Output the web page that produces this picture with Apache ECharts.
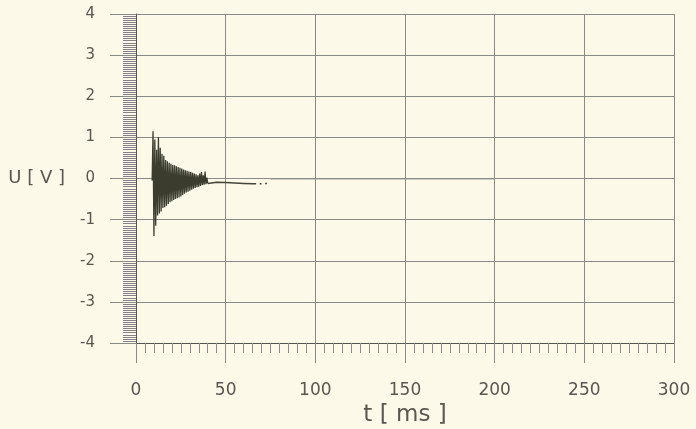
<!DOCTYPE html>
<html>
<head>
<meta charset="utf-8">
<script src="https://cdn.jsdelivr.net/npm/echarts@6/dist/echarts.min.js"></script>
<style>
  html, body { margin: 0; padding: 0; background: #fcf9e9; }
  #chart { width: 696px; height: 429px; }
</style>
</head>
<body>
<div id="chart"></div>
<script>
// Decaying voltage transient, sampled every 0.5 ms (t in ms, U in V)
const tSignal = [
  9.0, 9.5, 10.0, 10.5, 11.0, 11.5, 12.0, 12.5, 13.0, 13.5,
  14.0, 14.5, 15.0, 15.5, 16.0, 16.5, 17.0, 17.5, 18.0, 18.5,
  19.0, 19.5, 20.0, 20.5, 21.0, 21.5, 22.0, 22.5, 23.0, 23.5,
  24.0, 24.5, 25.0, 25.5, 26.0, 26.5, 27.0, 27.5, 28.0, 28.5,
  29.0, 29.5, 30.0, 30.5, 31.0, 31.5, 32.0, 32.5, 33.0, 33.5,
  34.0, 34.5, 35.0, 35.5, 36.0, 36.5, 37.0, 37.5, 38.0, 38.5,
  39.0, 39.5, 40.0
];
const uSignal = [
  -0.05, 1.15, -1.40, 0.95, -1.15, 0.70, -0.90, 1.00, -0.85, 0.75,
  -0.80, 0.60, -0.72, 0.55, -0.70, 0.45, -0.66, 0.42, -0.62, 0.38,
  -0.58, 0.36, -0.55, 0.33, -0.52, 0.32, -0.50, 0.30, -0.48, 0.28,
  -0.46, 0.26, -0.44, 0.24, -0.40, 0.22, -0.37, 0.20, -0.34, 0.19,
  -0.32, 0.17, -0.30, 0.16, -0.27, 0.14, -0.25, 0.12, -0.23, 0.10,
  -0.21, 0.08, -0.20, 0.12, -0.18, 0.16, -0.16, 0.08, -0.15, 0.17,
  -0.14, 0.02, -0.12
];

// Settling tail after the oscillation (null = gap in the trace)
const tTail = [40, 41, 45, 50, 55, 60, 65, 67, 68, 69, 70, 71, 72, 73];
const uTail = [-0.12, -0.08, -0.09, -0.10, -0.11, -0.12, -0.13, -0.13, null, -0.13, -0.13, null, -0.12, -0.12];

// Residual baseline
const tBase = [75, 200];
const uBase = [-0.02, -0.02];

// Axis ticks
const xTicks = [0, 50, 100, 150, 200, 250, 300];
const yTicks = [-4, -3, -2, -1, 0, 1, 2, 3, 4];

const pairs = (ts, us) => ts.map((t, i) => [t, us[i] === null ? '-' : us[i]]);

const FONT = 'DejaVu Sans';
const TEXT = '#5a5650';
const GRID = '#8a8a86';
const AXIS = '#55554f';

const chart = echarts.init(document.getElementById('chart'), null, { renderer: 'canvas' });

chart.setOption({
  backgroundColor: '#fcf9e9',
  animation: false,
  grid: { left: 136, right: 22, top: 14, bottom: 86, containLabel: false, outerBoundsMode: 'none' },
  xAxis: {
    type: 'value',
    min: xTicks[0],
    max: xTicks[xTicks.length - 1],
    interval: xTicks[1] - xTicks[0],
    name: 't [ ms ]',
    nameLocation: 'middle',
    nameGap: 60,
    nameTextStyle: { fontFamily: FONT, fontSize: 23, color: TEXT },
    axisLine: { show: true, onZero: false, lineStyle: { color: AXIS, width: 1 } },
    axisTick: { show: true, inside: false, length: 20, lineStyle: { color: GRID, width: 1 } },
    minorTick: { show: true, splitNumber: 10, length: 10, lineStyle: { color: '#8f8a8c', width: 1 } },
    axisLabel: { fontFamily: FONT, fontSize: 17, color: TEXT, margin: 39 },
    splitLine: { show: true, lineStyle: { color: GRID, width: 1 } }
  },
  yAxis: {
    type: 'value',
    min: yTicks[0],
    max: yTicks[yTicks.length - 1],
    interval: yTicks[1] - yTicks[0],
    name: 'U [ V ]',
    nameLocation: 'middle',
    nameRotate: 0,
    nameGap: 71,
    nameTextStyle: { fontFamily: FONT, fontSize: 18, color: TEXT },
    axisLine: { show: true, onZero: false, lineStyle: { color: AXIS, width: 1 } },
    axisTick: { show: true, inside: false, length: 26, lineStyle: { color: GRID, width: 1 } },
    minorTick: { show: true, splitNumber: 20, length: 13, lineStyle: { color: '#85808a', width: 1 } },
    axisLabel: { fontFamily: FONT, fontSize: 15, color: TEXT, margin: 41 },
    splitLine: { show: true, lineStyle: { color: GRID, width: 1 } }
  },
  series: [
    {
      type: 'line',
      data: pairs(tBase, uBase),
      showSymbol: false,
      lineStyle: { color: '#a7ae9a', width: 1, opacity: 0.7 },
      silent: true
    },
    {
      type: 'line',
      data: pairs(tTail, uTail),
      showSymbol: false,
      connectNulls: false,
      lineStyle: { color: '#45463a', width: 1.5 },
      silent: true
    },
    {
      type: 'line',
      data: pairs(tSignal, uSignal),
      showSymbol: false,
      lineStyle: { color: '#3b3c2e', width: 1.3 },
      silent: true
    }
  ]
});
</script>
</body>
</html>
